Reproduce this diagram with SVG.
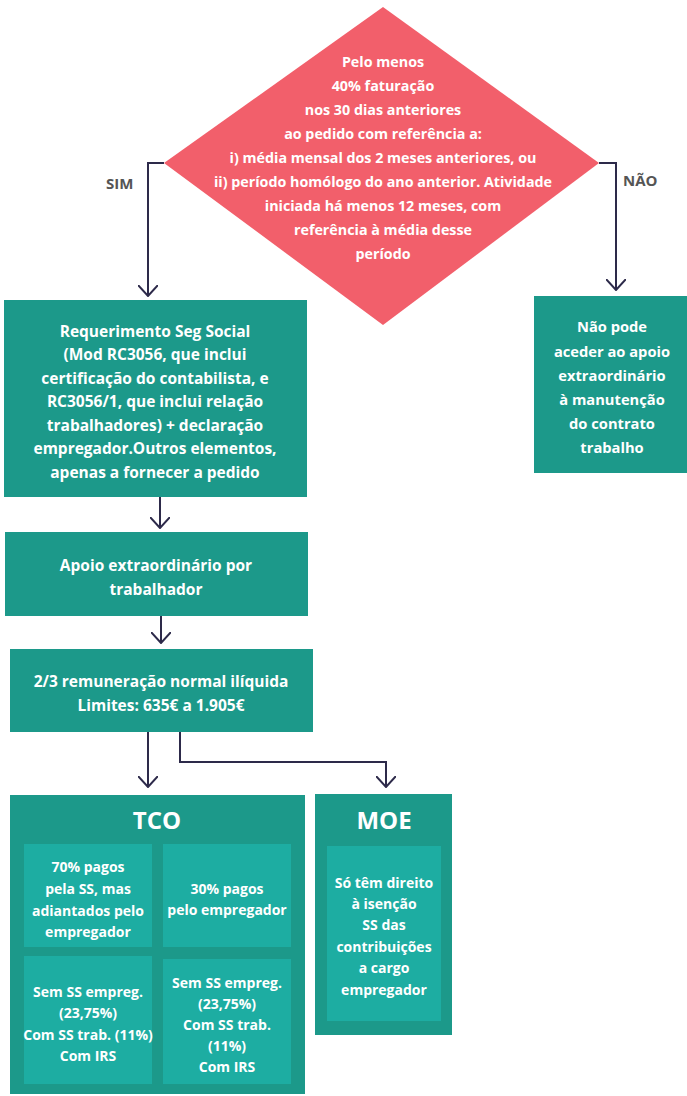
<svg xmlns="http://www.w3.org/2000/svg" width="687" height="1096" viewBox="0 0 687 1096">
<style>
.t{font-family:"Open Sans","Noto Sans",sans-serif;font-weight:700;font-size:14.3px;fill:#fff;text-anchor:middle}
.b{font-size:15.5px}
.n{font-size:14.7px}
.s{font-size:14px}
.h{font-size:24px}
.lbl{font-family:"Open Sans","Noto Sans",sans-serif;font-weight:700;font-size:15px;fill:#555}
.box{fill:#1C998A}
.in{fill:#1DADA2}
.c{fill:none;stroke:#2D2A4A;stroke-width:2}
</style>
<defs>
<marker id="ah" viewBox="0 0 12 20" refX="11" refY="10" markerWidth="12" markerHeight="20" markerUnits="userSpaceOnUse" orient="auto">
<path d="M0,0 L11,10 L0,20" fill="none" stroke="#2D2A4A" stroke-width="2"/>
</marker>
</defs>
<rect width="687" height="1096" fill="#fff"/>
<g id="connectors">
<path class="c" d="M164,163 H148 V296" marker-end="url(#ah)"/>
<path class="c" d="M599,163 H616 V290" marker-end="url(#ah)"/>
<path class="c" d="M160,497 V528" marker-end="url(#ah)"/>
<path class="c" d="M161,616 V643" marker-end="url(#ah)"/>
<path class="c" d="M148,732 V787" marker-end="url(#ah)"/>
<path class="c" d="M180,732 V762 H386 V787" marker-end="url(#ah)"/>
<text class="lbl" x="106" y="189">SIM</text>
<text class="lbl" x="623" y="186">NÃO</text>
</g>
<g id="decision">
<polygon points="383,7 599,163 383,325 164,163" fill="#F25F6B"/>
<text class="t"><tspan x="383" y="67">Pelo menos</tspan><tspan x="383" y="91">40% faturação</tspan><tspan x="383" y="115">nos 30 dias anteriores</tspan><tspan x="383" y="139">ao pedido com referência a:</tspan><tspan x="383" y="163">i) média mensal dos 2 meses anteriores, ou</tspan><tspan x="383" y="187">ii) período homólogo do ano anterior. Atividade</tspan><tspan x="383" y="211">iniciada há menos 12 meses, com</tspan><tspan x="383" y="235">referência à média desse</tspan><tspan x="383" y="259">período</tspan></text>
</g>
<g id="requerimento">
<rect class="box" x="4" y="300" width="303" height="197"/>
<text class="t b"><tspan x="155" y="337">Requerimento Seg Social</tspan><tspan x="155" y="360">(Mod RC3056, que inclui</tspan><tspan x="155" y="384">certificação do contabilista, e</tspan><tspan x="155" y="407">RC3056/1, que inclui relação</tspan><tspan x="155" y="431">trabalhadores) + declaração</tspan><tspan x="155" y="454">empregador.Outros elementos,</tspan><tspan x="155" y="478">apenas a fornecer a pedido</tspan></text>
</g>
<g id="naopode">
<rect class="box" x="534" y="296" width="153" height="177"/>
<text class="t n"><tspan x="612" y="332">Não pode</tspan><tspan x="612" y="357">aceder ao apoio</tspan><tspan x="612" y="381">extraordinário</tspan><tspan x="612" y="405">à manutenção</tspan><tspan x="612" y="429">do contrato</tspan><tspan x="612" y="453">trabalho</tspan></text>
</g>
<g id="apoio">
<rect class="box" x="5" y="532" width="303" height="84"/>
<text class="t b"><tspan x="156" y="571">Apoio extraordinário por</tspan><tspan x="156" y="595">trabalhador</tspan></text>
</g>
<g id="remuneracao">
<rect class="box" x="10" y="649" width="303" height="83"/>
<text class="t b"><tspan x="161" y="687">2/3 remuneração normal ilíquida</tspan><tspan x="161" y="711">Limites: 635€ a 1.905€</tspan></text>
</g>
<g id="tco">
<rect class="box" x="10" y="795" width="295" height="299"/>
<text class="t h" x="157" y="829">TCO</text>
<rect class="in" x="24" y="844" width="128" height="103"/>
<text class="t s"><tspan x="88" y="872">70% pagos</tspan><tspan x="88" y="894">pela SS, mas</tspan><tspan x="88" y="916">adiantados pelo</tspan><tspan x="88" y="937">empregador</tspan></text>
<rect class="in" x="163" y="844" width="128" height="103"/>
<text class="t s"><tspan x="227" y="894">30% pagos</tspan><tspan x="227" y="915">pelo empregador</tspan></text>
<rect class="in" x="24" y="956" width="128" height="128"/>
<text class="t s"><tspan x="88" y="997">Sem SS empreg.</tspan><tspan x="88" y="1018">(23,75%)</tspan><tspan x="88" y="1040">Com SS trab.  (11%)</tspan><tspan x="88" y="1061">Com IRS</tspan></text>
<rect class="in" x="163" y="959" width="128" height="125"/>
<text class="t s"><tspan x="227" y="988">Sem SS empreg.</tspan><tspan x="227" y="1009">(23,75%)</tspan><tspan x="227" y="1030">Com SS trab.</tspan><tspan x="227" y="1051">(11%)</tspan><tspan x="227" y="1072">Com IRS</tspan></text>
</g>
<g id="moe">
<rect class="box" x="315" y="794" width="137" height="241"/>
<text class="t h" x="384" y="829">MOE</text>
<rect class="in" x="327" y="846" width="114" height="175"/>
<text class="t s"><tspan x="384" y="888">Só têm direito</tspan><tspan x="384" y="909">à isenção</tspan><tspan x="384" y="930">SS das</tspan><tspan x="384" y="952">contribuições</tspan><tspan x="384" y="973">a cargo</tspan><tspan x="384" y="995">empregador</tspan></text>
</g>
</svg>
